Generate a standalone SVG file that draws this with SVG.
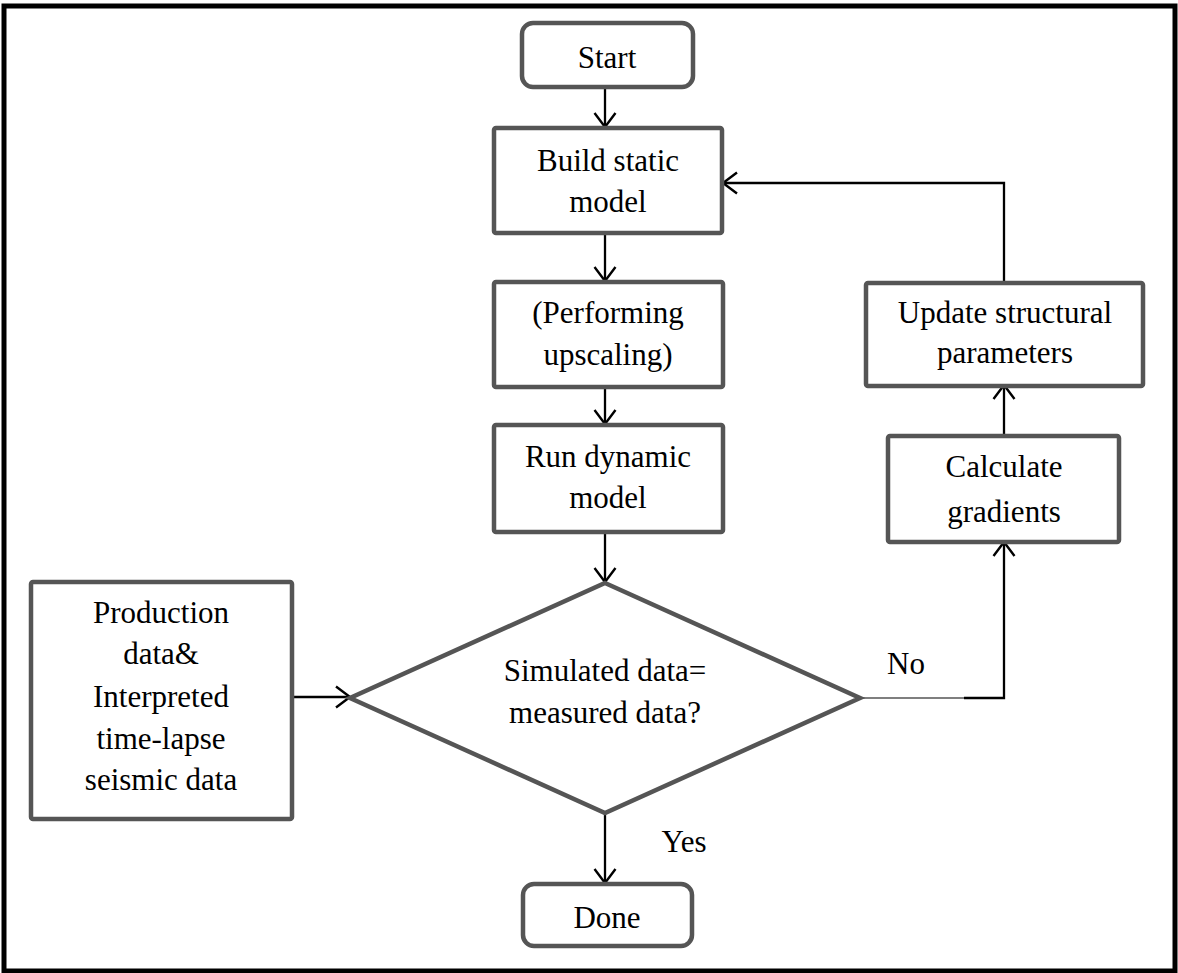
<svg xmlns="http://www.w3.org/2000/svg" width="1178" height="973" viewBox="0 0 1178 973">
<defs>
<style>
.box{fill:#fff;stroke:#555;stroke-width:4.5;}
.t{font-family:'Liberation Serif','Times New Roman',serif;font-size:31px;fill:#000;text-anchor:middle;}
.c{fill:none;stroke:#000;stroke-width:2.3;}
</style>
<marker id="ah" markerUnits="userSpaceOnUse" markerWidth="24" markerHeight="24" viewBox="0 0 24 24" refX="18" refY="12" orient="auto">
<path d="M4,1.5 L18,12 L4,22.5" fill="none" stroke="#000" stroke-width="2.4"/>
</marker>
</defs>
<rect x="0" y="0" width="1178" height="973" fill="#fff"/>
<rect x="4" y="6" width="1171" height="965" fill="none" stroke="#000" stroke-width="5"/>
<g id="connectors">
<line class="c" x1="605" y1="87" x2="605" y2="127" marker-end="url(#ah)"/>
<line class="c" x1="605" y1="233" x2="605" y2="281" marker-end="url(#ah)"/>
<line class="c" x1="605" y1="387" x2="605" y2="424" marker-end="url(#ah)"/>
<line class="c" x1="605" y1="532" x2="605" y2="582" marker-end="url(#ah)"/>
<line class="c" x1="292" y1="697" x2="350" y2="697" marker-end="url(#ah)"/>
<line class="c" x1="605" y1="813" x2="605" y2="883" marker-end="url(#ah)"/>
<line x1="860" y1="698" x2="964" y2="698" stroke="#555" stroke-width="1.5"/>
<polyline class="c" points="964,698 1004,698 1004,542" marker-end="url(#ah)"/>
<line class="c" x1="1004" y1="436" x2="1004" y2="385" marker-end="url(#ah)"/>
<polyline class="c" points="1004,281 1004,183 723,183" marker-end="url(#ah)"/>
</g>
<g id="start">
<rect class="box" x="522" y="23" width="171" height="64" rx="11"/>
<text class="t" x="607" y="68">Start</text>
</g>
<g id="build">
<rect class="box" x="494" y="128" width="228" height="105" rx="2"/>
<text class="t" x="608" y="171">Build static</text>
<text class="t" x="608" y="212">model</text>
</g>
<g id="upscale">
<rect class="box" x="494" y="282" width="229" height="105" rx="2"/>
<text class="t" x="608" y="323">(Performing</text>
<text class="t" x="608" y="365">upscaling)</text>
</g>
<g id="run">
<rect class="box" x="494" y="425" width="229" height="107" rx="2"/>
<text class="t" x="608" y="467">Run dynamic</text>
<text class="t" x="608" y="508">model</text>
</g>
<g id="decision">
<polygon class="box" points="605,583 860,698 605,813 350,698"/>
<text class="t" x="605" y="681">Simulated data=</text>
<text class="t" x="605" y="723">measured data?</text>
</g>
<g id="production">
<rect class="box" x="31" y="582" width="261" height="237" rx="2"/>
<text class="t" x="161" y="623">Production</text>
<text class="t" x="161" y="664">data&amp;</text>
<text class="t" x="161" y="707">Interpreted</text>
<text class="t" x="161" y="749">time-lapse</text>
<text class="t" x="161" y="790">seismic data</text>
</g>
<g id="done">
<rect class="box" x="523" y="884" width="169" height="62" rx="11"/>
<text class="t" x="607" y="928">Done</text>
</g>
<g id="calc">
<rect class="box" x="888" y="436" width="231" height="106" rx="2"/>
<text class="t" x="1004" y="477">Calculate</text>
<text class="t" x="1004" y="522">gradients</text>
</g>
<g id="update">
<rect class="box" x="866" y="283" width="277" height="103" rx="2"/>
<text class="t" x="1005" y="323">Update structural</text>
<text class="t" x="1005" y="363">parameters</text>
</g>
<text class="t" x="906" y="674">No</text>
<text class="t" x="684" y="852">Yes</text>
</svg>
